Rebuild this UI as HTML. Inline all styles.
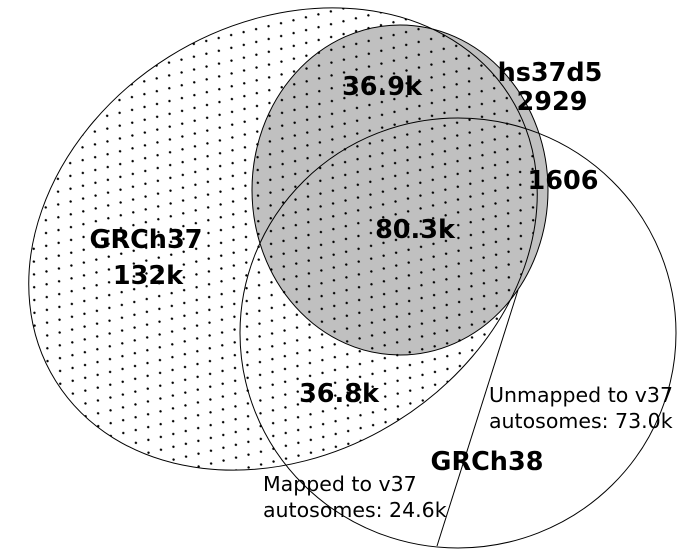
<!DOCTYPE html>
<html><head><meta charset="utf-8"><style>
html,body{margin:0;padding:0;background:#fff;}
svg{display:block;}
text{font-family:"DejaVu Sans","Liberation Sans",sans-serif;fill:#000;}
.b{font-weight:bold;font-size:25.5px;text-anchor:middle;}
.n{font-size:20.5px;}
</style></head><body>
<svg id="venn" width="689" height="559" viewBox="0 0 689 559">
<defs>
<pattern id="dots" width="20" height="16" patternUnits="userSpaceOnUse" patternTransform="rotate(-20)">
<circle cx="3" cy="3" r="1.2" fill="#000"/>
<circle cx="13" cy="11" r="1.2" fill="#000"/>
</pattern>
</defs>
<ellipse cx="400" cy="190" rx="148" ry="165" fill="#c0c0c0" stroke="none"/>
<ellipse cx="283" cy="239" rx="268" ry="215" transform="rotate(-32 283 239)" fill="url(#dots)" stroke="#000" stroke-width="1"/>
<ellipse cx="400" cy="190" rx="148" ry="165" fill="none" stroke="#000" stroke-width="1"/>
<ellipse cx="458" cy="333" rx="218" ry="215" fill="none" stroke="#000" stroke-width="1"/>
<line x1="518" y1="290" x2="437" y2="546" stroke="#000" stroke-width="1"/>
<g id="labels"></g>
</svg>
<script>
const labelTexts = ["36.9k","hs37d5","2929","1606","GRCh37","132k","80.3k","36.8k","GRCh38"];
const labelNames = ["value-37-hs-only","hs37d5-title","hs37d5-value","value-hs-38","grch37-title","grch37-value","value-all-three","value-37-38","grch38-title"];
const labelX = [382,550,552,563,146,148,415,339,487];
const labelY = [95,81,110,189,248,284,238,402,470];
const noteTexts = ["Unmapped to v37","autosomes: 73.0k","Mapped to v37","autosomes: 24.6k"];
const noteNames = ["unmapped-note-line1","unmapped-note-line2","mapped-note-line1","mapped-note-line2"];
const noteX = [489,489,263,263];
const noteY = [402,428,491,517];
const g = document.getElementById('labels');
const NS = "http://www.w3.org/2000/svg";
labelTexts.forEach((t,i)=>{
  const el = document.createElementNS(NS,'text');
  el.setAttribute('x',labelX[i]); el.setAttribute('y',labelY[i]);
  el.setAttribute('class','b');
  
  
  el.textContent = t; g.appendChild(el);
});
noteTexts.forEach((t,i)=>{
  const el = document.createElementNS(NS,'text');
  el.setAttribute('x',noteX[i]); el.setAttribute('y',noteY[i]);
  el.setAttribute('class','n');
  
  
  el.textContent = t; g.appendChild(el);
});
</script>
</body></html>
